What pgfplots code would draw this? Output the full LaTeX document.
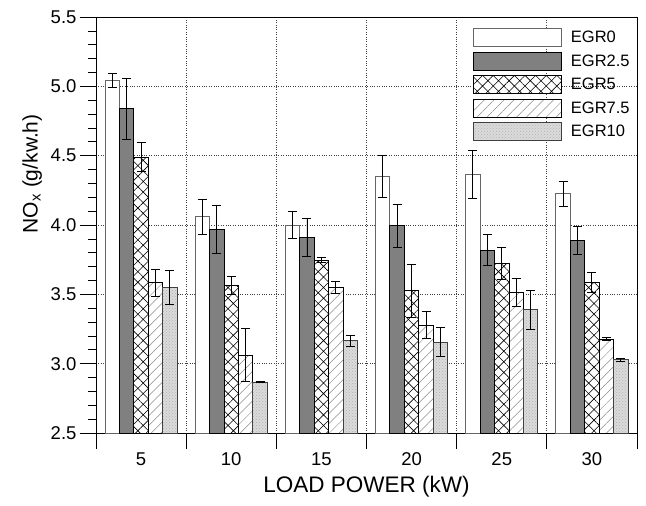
\documentclass[border=0pt]{standalone}
\usepackage{fontspec}
\setmainfont{Liberation Sans}
\usepackage{pgfplots}
\pgfplotsset{compat=1.18}
\usetikzlibrary{patterns,patterns.meta}

\begin{document}
\begin{tikzpicture}
\begin{axis}[
  name=ax,
  scale only axis, width=541pt, height=416pt,
  ybar=0pt, bar width=0.16,
  xmin=0.5, xmax=6.5, ymin=2.5, ymax=5.5,
  xtick={0.5,1.5,2.5,3.5,4.5,5.5,6.5}, xticklabels={,,,,,,},
  extra x ticks={1,2,3,4,5,6}, extra x tick labels={5,10,15,20,25,30},
  extra x tick style={major tick length=0pt, xticklabel shift=16pt, grid=none},
  ytick={2.5,3,3.5,4,4.5,5,5.5}, minor y tick num=4,
  yticklabel style={/pgf/number format/.cd, fixed, fixed zerofill, precision=1},
  /pgf/number format/assume math mode=true,
  tick align=outside, tick pos=left,
  major tick length=16pt, minor tick length=8pt,
  tick style={black, line width=0.7pt},
  axis line style={black, line width=0.9pt},
  xmajorgrids, ymajorgrids,
  major grid style={dotted, black!75, line width=0.9pt},
  tick label style={font=\fontsize{18.5}{22}\selectfont},
  xlabel style={font=\fontsize{22.5}{26}\selectfont},
  ylabel style={font=\fontsize{21}{24}\selectfont},
  xlabel={LOAD POWER (kW)},
  ylabel={NO\textsubscript{x} (g/kw.h)},
  xlabel style={at={(axis description cs:0.5,-0.13)}, anchor=center},
  ylabel style={at={(axis description cs:-0.118,0.623)}, anchor=center},
  legend style={draw=none, fill=none, at={(axis description cs:0.691,0.978)},
    anchor=north west, font=\fontsize{16.5}{19}\selectfont, row sep=4.5pt,
    nodes={inner sep=1pt}},
  legend cell align=left,
  legend image code/.code={\draw[#1] (0pt,-9pt) rectangle (88pt,9pt);},
  /tikz/every odd column/.append style={column sep=8pt},
  error bars/y dir=both, error bars/y explicit,
  error bars/error bar style={black, line width=0.9pt, solid},
  error bars/error mark options={black, rotate=90, mark size=4.5pt, line width=0.9pt},
]
% EGR0
\addplot[fill=white, draw=black!60, line width=0.9pt] coordinates {
  (1,5.04) +- (0,0.05)
  (2,4.06) +- (0,0.125)
  (3,4.00) +- (0,0.10)
  (4,4.35) +- (0,0.15)
  (5,4.366) +- (0,0.175)
  (6,4.226) +- (0,0.09)
};
% EGR2.5
\addplot[fill=black!50, draw=black, line width=0.9pt] coordinates {
  (1,4.84) +- (0,0.22)
  (2,3.968) +- (0,0.17)
  (3,3.911) +- (0,0.137)
  (4,3.995) +- (0,0.155)
  (5,3.819) +- (0,0.112)
  (6,3.889) +- (0,0.10)
};
% EGR5
\addplot[fill=white, draw=black, line width=0.9pt,
  postaction={pattern={Hatch[angle=45,distance=7.5pt,line width=0.6pt]}, pattern color=black}] coordinates {
  (1,4.49) +- (0,0.105)
  (2,3.563) +- (0,0.063)
  (3,3.747) +- (0,0.02)
  (4,3.525) +- (0,0.19)
  (5,3.723) +- (0,0.115)
  (6,3.585) +- (0,0.072)
};
% EGR7.5
\addplot[fill=white, draw=black, line width=0.9pt,
  postaction={pattern={Lines[angle=45,distance=7pt,line width=0.5pt]}, pattern color=black!45}] coordinates {
  (1,3.583) +- (0,0.10)
  (2,3.061) +- (0,0.19)
  (3,3.55) +- (0,0.045)
  (4,3.278) +- (0,0.097)
  (5,3.516) +- (0,0.10)
  (6,3.176) +- (0,0.012)
};
% EGR10
\addplot[fill=black!14, draw=black!75, line width=0.9pt,
  postaction={pattern=crosshatch dots, pattern color=black!30}] coordinates {
  (1,3.549) +- (0,0.12)
  (2,2.868) +- (0,0.003)
  (3,3.164) +- (0,0.04)
  (4,3.155) +- (0,0.103)
  (5,3.39) +- (0,0.14)
  (6,3.029) +- (0,0.01)
};
\legend{EGR0,EGR2.5,EGR5,EGR7.5,EGR10}
\end{axis}
\path (ax.south west) ++(-96pt,-72pt) coordinate (bl);
\path (ax.north east) ++(9pt,17pt) coordinate (tr);
\path[use as bounding box] (bl) rectangle (tr);
\end{tikzpicture}
\end{document}
